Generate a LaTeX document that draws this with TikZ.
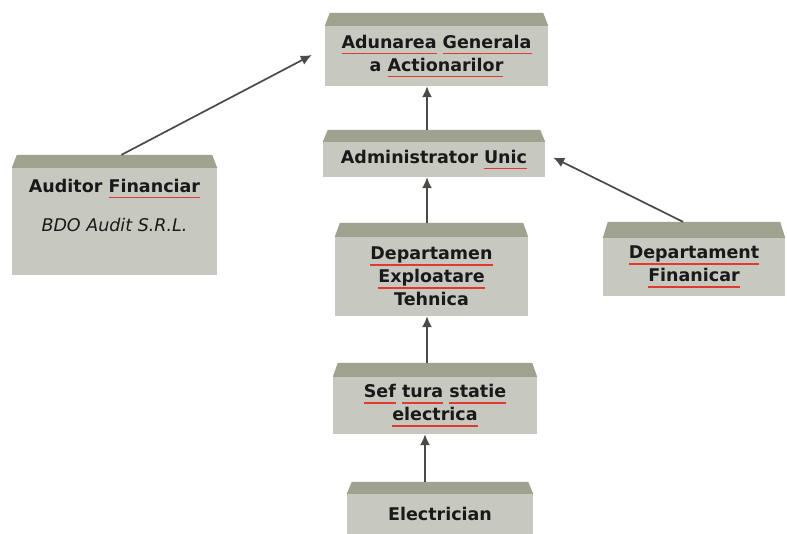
\documentclass[tikz,border=0pt]{standalone}
\usepackage{fontspec}
\setmainfont{DejaVu Sans}
\usetikzlibrary{arrows.meta,calc}

\definecolor{frontgray}{HTML}{C7C9C0}
\definecolor{topgray}{HTML}{9EA28F}
\definecolor{linkgray}{HTML}{4A4A46}
\definecolor{spellred}{HTML}{E03A30}

\newsavebox\spellbox
\newcommand\spellmark[1]{\sbox\spellbox{#1}\textcolor{spellred}{\rlap{\rule[-5.8pt]{\wd\spellbox}{1.3pt}}}\usebox\spellbox}

\begin{document}
\begin{tikzpicture}[
    x=1pt, y=-1pt,
    box/.style={fill=frontgray, draw=none, inner sep=0pt, align=center,
                font=\fontsize{17.5}{23}\selectfont\bfseries, text=black!90},
    topface/.style={fill=topgray, draw=none},
    link/.style={draw=linkgray, line width=1.7pt, -{Latex[length=11pt,width=10pt]}}
]
\clip (0,0) rectangle (787,533);
\fill[white] (0,0) rectangle (787,533);

% Boxes (front faces)
\node[box, minimum width=223, minimum height=60] (aga) at (436.5,56)
    {\spellmark{Adunarea} \spellmark{Generala}\\a \spellmark{Actionarilor}};
\node[box, minimum width=222, minimum height=35] (adm) at (434,159.5)
    {Administrator \spellmark{Unic}};
\node[box, minimum width=193, minimum height=79] (dep) at (431.5,276.5)
    {\spellmark{Departamen}\\\spellmark{Exploatare}\\Tehnica};
\node[box, minimum width=205, minimum height=107] (aud) at (114.5,221.5) {};
\node[box, minimum width=182, minimum height=58] (fin) at (694,267)
    {\spellmark{Departament}\\\spellmark{Finanicar}};
\node[box, minimum width=204, minimum height=57] (sef) at (435,405.5)
    {\spellmark{Sef} \spellmark{tura} \spellmark{statie}\\\spellmark{electrica}};
\node[box, minimum width=186, minimum height=40] (ele) at (440,514)
    {Electrician};

% Auditor text sits high in its box
\node[box, fill=none] (audtxt) at (114.5,205)
    {Auditor \spellmark{Financiar}\\[16pt]{\mdseries\itshape BDO Audit S.R.L.}};

% Top bevels
\foreach \n/\d in {aga/13, adm/12, dep/14, aud/13, fin/16, sef/14, ele/12} {
    \fill[topface] (\n.north west) -- ([xshift=5pt, yshift=\d pt]\n.north west)
        -- ([xshift=-5pt, yshift=\d pt]\n.north east) -- (\n.north east) -- cycle;
}

% Connectors
\coordinate (spine) at (427,0);
\draw[link] ($(spine |- adm.north)+(0,-12)$) -- (spine |- aga.south);
\draw[link] ($(spine |- dep.north)+(0,-14)$) -- (spine |- adm.south);
\draw[link] ($(spine |- sef.north)+(0,-14)$) -- (spine |- dep.south);
\draw[link] ($(spine |- ele.north)+(-2,-12)$) -- ($(spine |- sef.south)+(-2,0)$);
\draw[link] ($(aud.north)+(7,-13)$) -- ($(aga.west)+(-13,-1)$);
\draw[link] ($(fin.north)+(-11,-16)$) -- ($(adm.east)+(8,-2)$);

\end{tikzpicture}
\end{document}
